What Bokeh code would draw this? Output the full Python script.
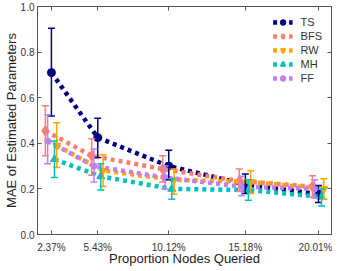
from bokeh.plotting import figure
from bokeh.models import (ColumnDataSource, Whisker, TeeHead, FixedTicker, LinearAxis,
                          Legend, LegendItem, Range1d)
from bokeh.embed import file_html
from bokeh.resources import INLINE

# ---- data ----
proportions = [2.37, 5.43, 10.12, 15.18, 20.01]
tick_labels = ["2.37%", "5.43%", "10.12%", "15.18%", "20.01%"]
y_ticks = [0.0, 0.2, 0.4, 0.6, 0.8, 1.0]
y_tick_labels = ["0.0", "0.2", "0.4", "0.6", "0.8", "1.0"]
series_names = ["TS", "BFS", "RW", "MH", "FF"]

ts_mean = [0.71, 0.425, 0.30, 0.22, 0.177]
ts_upper = [0.905, 0.51, 0.37, 0.265, 0.215]
ts_lower = [0.52, 0.338, 0.24, 0.18, 0.14]

bfs_mean = [0.455, 0.345, 0.287, 0.235, 0.21]
bfs_upper = [0.565, 0.42, 0.345, 0.287, 0.258]
bfs_lower = [0.345, 0.26, 0.23, 0.19, 0.165]

rw_mean = [0.39, 0.28, 0.24, 0.23, 0.20]
rw_upper = [0.49, 0.35, 0.287, 0.28, 0.245]
rw_lower = [0.294, 0.21, 0.177, 0.18, 0.155]

mh_mean = [0.33, 0.255, 0.20, 0.195, 0.165]
mh_upper = [0.41, 0.31, 0.245, 0.24, 0.20]
mh_lower = [0.25, 0.195, 0.155, 0.15, 0.125]

ff_mean = [0.41, 0.30, 0.25, 0.21, 0.20]
ff_upper = [0.525, 0.375, 0.30, 0.255, 0.24]
ff_lower = [0.31, 0.23, 0.20, 0.17, 0.16]

# ---- styles ----
styles = {
    "TS":  dict(color="#000080", marker="circle", size=8, dodge=0.0),
    "BFS": dict(color="#FA8072", marker="diamond", size=11, dodge=-0.4),
    "RW":  dict(color="#FFA500", marker="inverted_triangle", size=8, dodge=0.35),
    "MH":  dict(color="#00BFBF", marker="triangle", size=8, dodge=0.2),
    "FF":  dict(color="#BF7FFF", marker="circle", size=6, dodge=-0.25),
}
data = {
    "TS": (ts_mean, ts_upper, ts_lower),
    "BFS": (bfs_mean, bfs_upper, bfs_lower),
    "RW": (rw_mean, rw_upper, rw_lower),
    "MH": (mh_mean, mh_upper, mh_lower),
    "FF": (ff_mean, ff_upper, ff_lower),
}

FONT = "Liberation Sans"

p = figure(frame_width=294, frame_height=228, output_backend="svg", toolbar_location=None,
           x_range=Range1d(1.45, 20.87), y_range=Range1d(0.0, 1.0),
           min_border_left=0, min_border_right=1, min_border_top=6, min_border_bottom=0)
p.grid.visible = False
p.outline_line_color = "#555555"
p.background_fill_color = "white"

items = []
for name in series_names:
    st = styles[name]
    mean, up, lo = data[name]
    xs = [v + st["dodge"] for v in proportions]
    src = ColumnDataSource(dict(x=xs, y=mean, upper=up, lower=lo))
    ln = p.line("x", "y", source=src, line_color=st["color"], line_width=4.5,
                line_dash="4 4")
    w = Whisker(base="x", upper="upper", lower="lower", source=src, dimension="height",
                line_color=st["color"], line_width=1.5, level="glyph",
                upper_head=TeeHead(size=7, line_color=st["color"], line_width=1.5),
                lower_head=TeeHead(size=7, line_color=st["color"], line_width=1.5))
    p.add_layout(w)
    sc = p.scatter("x", "y", source=src, marker=st["marker"], size=st["size"],
                   fill_color=st["color"], line_color=st["color"])
    items.append(LegendItem(label=name, renderers=[ln, sc]))

# axes
def style_axis(ax):
    ax.axis_line_color = "#555555"
    ax.major_tick_line_color = "#555555"
    ax.major_tick_in = 4
    ax.major_tick_out = 0
    ax.minor_tick_line_color = None
    ax.major_label_text_font = FONT
    ax.major_label_text_font_size = "10px"
    ax.major_label_text_color = "#333333"
    ax.axis_label_text_font = FONT
    ax.axis_label_text_font_size = "13px"
    ax.axis_label_text_font_style = "normal"
    ax.axis_label_text_color = "#222222"

xticker = FixedTicker(ticks=proportions)
yticker = FixedTicker(ticks=y_ticks)

p.xaxis.ticker = xticker
p.xaxis.major_label_overrides = {v: t for v, t in zip(proportions, tick_labels)}
p.xaxis.axis_label = "Proportion Nodes Queried"
p.yaxis.ticker = yticker
p.yaxis.major_label_overrides = {v: t for v, t in zip(y_ticks, y_tick_labels)}
p.yaxis.axis_label = "MAE of Estimated Parameters"
style_axis(p.xaxis[0])
style_axis(p.yaxis[0])
p.xaxis.major_label_standoff = 7
p.xaxis.axis_label_standoff = -5
p.yaxis.major_label_standoff = 3
p.yaxis.axis_label_standoff = -1

top = LinearAxis(ticker=xticker, major_label_standoff=0,
                 major_label_overrides={v: "" for v in proportions})
style_axis(top)
p.add_layout(top, "above")
right = LinearAxis(ticker=yticker, major_label_standoff=0,
                   major_label_overrides={v: "" for v in y_ticks})
style_axis(right)
p.add_layout(right, "right")

legend = Legend(items=items, location="top_right", border_line_color=None,
                background_fill_alpha=0, glyph_width=20, glyph_height=14,
                label_height=14, spacing=0, padding=2, margin=9, label_standoff=8,
                label_text_font=FONT, label_text_font_size="11px",
                label_text_color="#333333")
p.add_layout(legend)

open("out.html", "w").write(file_html(p, INLINE))
